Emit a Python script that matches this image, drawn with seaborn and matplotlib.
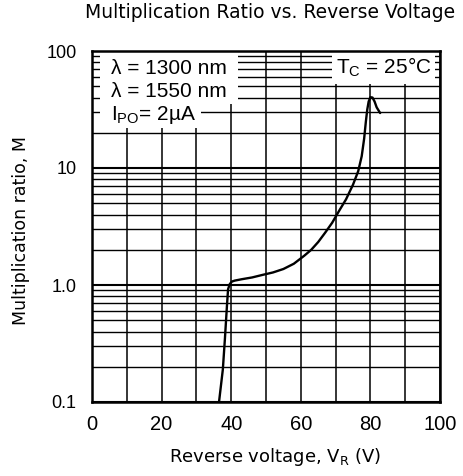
import matplotlib
matplotlib.use("Agg")
import matplotlib.pyplot as plt
import seaborn as sns
import numpy as np
import pandas as pd
from matplotlib.patches import Rectangle
from matplotlib.ticker import FixedLocator, NullFormatter, LogLocator

# ---- data ----
voltage = [36.5, 37.6, 38.2, 38.8, 39.1, 39.6, 40.2, 41.0, 43.0, 46.0, 49.0, 52.0,
           55.0, 58.0, 61.0, 63.0, 65.0, 67.0, 69.0, 71.0, 73.0, 75.0, 76.5, 77.5,
           78.2, 78.7, 79.1, 79.5, 80.0, 80.6, 81.2, 81.8, 82.8]
mult = [0.1, 0.19, 0.35, 0.68, 0.92, 1.02, 1.07, 1.09, 1.12, 1.16, 1.22, 1.28,
        1.37, 1.52, 1.78, 2.00, 2.33, 2.80, 3.40, 4.30, 5.40, 7.20, 9.40, 12.6,
        17.8, 25.0, 31.6, 37.0, 40.3, 40.0, 37.0, 33.0, 29.5]
x_ticks = [0, 20, 40, 60, 80, 100]
y_ticks = [0.1, 1.0, 10, 100]
y_tick_labels = ["0.1", "1.0", "10", "100"]
legend_lines = ["λ = 1300 nm", "λ = 1550 nm", r"I$\mathregular{_{PO}}$= 2µA"]
temp_label = r"T$\mathregular{_C}$ = 25°C"

sns.set_style("white")
plt.rcParams["font.family"] = ["Liberation Sans", "DejaVu Sans"]
plt.rcParams["mathtext.fontset"] = "custom"
plt.rcParams["mathtext.rm"] = "Liberation Sans"
plt.rcParams["mathtext.it"] = "Liberation Sans:italic"
plt.rcParams["mathtext.sf"] = "Liberation Sans"
for k in ["text.color", "axes.labelcolor", "xtick.color", "ytick.color"]:
    plt.rcParams[k] = "black"

fig = plt.figure(figsize=(4.63, 4.76), dpi=100)
ax = fig.add_axes([92 / 463, (476 - 402) / 476, 348 / 463, 351 / 476])

df = pd.DataFrame({"V": voltage, "M": mult})
sns.lineplot(data=df, x="V", y="M", ax=ax, sort=False, estimator=None,
             color="black", linewidth=1.7, zorder=3)

ax.set_yscale("log")
ax.set_xlim(0, 100)
ax.set_ylim(0.1, 100)

ax.set_xticks(x_ticks)
ax.set_xticklabels([str(t) for t in x_ticks])
ax.xaxis.set_minor_locator(FixedLocator(list(range(0, 101, 10))))
ax.set_yticks(y_ticks)
ax.set_yticklabels(y_tick_labels)
ax.yaxis.set_minor_locator(LogLocator(base=10, subs=np.arange(2, 10)))
ax.yaxis.set_minor_formatter(NullFormatter())

ax.set_axisbelow(True)
ax.grid(which="major", axis="y", color="black", linewidth=1.5)
ax.grid(which="minor", axis="y", color="black", linewidth=1.0)
ax.grid(which="both", axis="x", color="black", linewidth=1.1)

ax.tick_params(axis="both", which="both", length=0)
ax.tick_params(axis="x", labelsize=14.5, pad=9)
ax.tick_params(axis="y", labelsize=13, pad=11)

for s in ax.spines.values():
    s.set_visible(True)
    s.set_color("black")
    s.set_linewidth(1.8)

ax.set_xlabel("Reverse voltage, V$\\mathregular{_R}$ (V)", fontsize=13,
              family=["DejaVu Sans"])
ax.xaxis.set_label_coords(0.526, -0.125)
ax.set_ylabel("Multiplication ratio, M", fontsize=12.5, family=["DejaVu Sans"])
ax.yaxis.set_label_coords(-0.178, 0.49)

# white boxes behind annotations
ax.add_patch(Rectangle((0.023, 0.849), 0.397, 0.151, transform=ax.transAxes,
                       facecolor="white", edgecolor="none", zorder=1.5))
ax.add_patch(Rectangle((0.023, 0.78), 0.29, 0.075, transform=ax.transAxes,
                       facecolor="white", edgecolor="none", zorder=1.5))
ax.add_patch(Rectangle((0.69, 0.905), 0.295, 0.095, transform=ax.transAxes,
                       facecolor="white", edgecolor="none", zorder=1.5))

for i, t in enumerate(legend_lines):
    ax.text(0.055, 0.95 - i * 0.066, t, transform=ax.transAxes, fontsize=15,
            ha="left", va="center", zorder=4)
ax.text(0.70, 0.952, temp_label, transform=ax.transAxes, fontsize=15,
        ha="left", va="center", zorder=4)

fig.text(270 / 463, 1 - 17.5 / 476, "Multiplication Ratio vs. Reverse Voltage",
         ha="center", va="baseline", fontsize=13.5, family=["DejaVu Sans"])

fig.savefig("out.png", dpi=100)
